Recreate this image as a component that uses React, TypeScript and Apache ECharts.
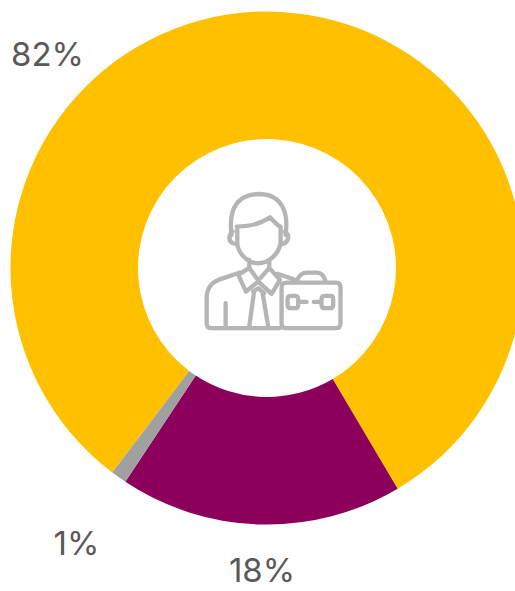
import React, { useEffect, useRef } from "react";
import * as echarts from "echarts";

// Share of respondents per group, in percent, as stated on the ring's labels.
const categories = ["Grupo A", "Grupo B", "Grupo C"];
const shareValues = [82, 18, 1];
const sliceColors = ["#FFC000", "#8C005C", "#A0A0A0"];

// Page-pixel anchor for each percentage label.
const labelAnchors = [
  { x: 47.5, y: 54 },
  { x: 262, y: 570 },
  { x: 76.5, y: 543 },
];

// Line-art figure of a person holding a briefcase, in a 3x drawing grid.
const workerIcon = [
  // hair and fringe
  "M125 165C118 110 125 45 205 42C285 42 295 110 287 165",
  "M140 140C180 140 215 130 240 112C252 125 262 135 272 142",
  // face and ears
  "M142 140L142 195C150 230 180 250 205 250C235 250 265 225 272 190L272 140",
  "M128 155C115 165 115 185 130 190L142 192",
  "M285 155C300 165 297 185 280 192L272 190",
  // neck and collar
  "M178 240L178 264L205 302L238 264L238 240",
  "M178 264L145 285L168 335L205 305L245 342L270 300L238 264",
  // shoulders and body outline
  "M150 278L85 300C60 310 50 330 50 355L50 430C50 440 55 445 65 445L270 445",
  "M262 282L312 298",
  "M107 370L107 440",
  // tie
  "M192 338L178 440",
  "M218 340L235 440",
  "M190 335L205 325L222 340",
  // briefcase body and handle
  "M289 308L438 308Q452 308 452 322L452 431Q452 445 438 445L289 445Q275 445 275 431L275 322Q275 308 289 308Z",
  "M322 300C328 285 340 278 352 278L380 278C395 278 402 288 406 300",
  // briefcase clasps and seam
  "M303 348L315 348Q325 348 325 358L325 375Q325 385 315 385L303 385Q293 385 293 375L293 358Q293 348 303 348Z",
  "M405 348L420 348Q430 348 430 358L430 375Q430 385 420 385L405 385Q395 385 395 375L395 358Q395 348 405 348Z",
  "M325 366L350 366",
  "M372 366L395 366",
].join("");

echarts.graphic.registerShape("workerIcon", echarts.graphic.extendPath(workerIcon, {}) as any);

export default function App() {
  const ref = useRef<HTMLDivElement>(null);

  useEffect(() => {
    if (!ref.current) return;
    const chart = echarts.init(ref.current, undefined, { renderer: "svg" });
    chart.setOption({
      animation: false,
      backgroundColor: "#ffffff",
      graphic: [
        {
          type: "workerIcon",
          x: 190,
          y: 180,
          scaleX: 1 / 3,
          scaleY: 1 / 3,
          z: 10,
          style: {
            fill: "none",
            stroke: "#B5B5B5",
            lineWidth: 13,
            lineCap: "round",
            lineJoin: "round",
          },
        },
      ],
      series: [
        {
          type: "pie",
          center: [267, 268],
          radius: [129, 256.5],
          startAngle: 232.9,
          clockwise: true,
          silent: true,
          data: categories.map((name, i) => ({
            name,
            value: shareValues[i],
            itemStyle: { color: sliceColors[i] },
          })),
          label: {
            show: true,
            position: "outside",
            formatter: (p: { value: number }) => `${p.value}%`,
            fontFamily: "Inter, 'Open Sans', sans-serif",
            fontSize: 33,
            lineHeight: 28,
            fontWeight: 400,
            color: "#595959",
          },
          labelLine: { show: false },
          labelLayout: (p: { dataIndex: number }) => ({
            x: labelAnchors[p.dataIndex].x,
            y: labelAnchors[p.dataIndex].y,
            align: "center",
            verticalAlign: "middle",
          }),
        },
      ],
    });
    return () => chart.dispose();
  }, []);

  return (
    <div
      ref={ref}
      style={{ position: "fixed", left: 0, top: 0, width: 515, height: 591 }}
    />
  );
}
